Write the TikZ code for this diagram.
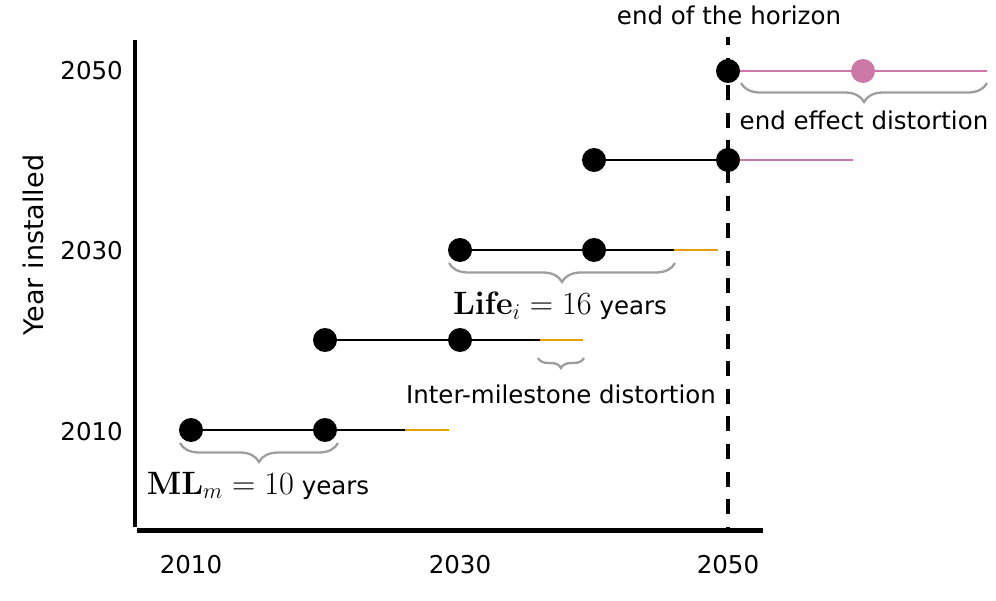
\documentclass[tikz,border=0pt]{standalone}
\usepackage{graphicx}
\usepackage[no-math]{fontspec}
\setmainfont{DejaVu Sans}
\usetikzlibrary{decorations.pathreplacing}
\definecolor{lifeorange}{HTML}{E69F00}
\definecolor{endpink}{HTML}{CC79A7}
\definecolor{bracegray}{HTML}{9E9E9E}
\newcommand{\bigmath}[1]{\scalebox{1.3}{$#1$}}
\tikzset{
  milestone/.style={circle, fill=black, inner sep=0pt, minimum size=24pt},
  enddot/.style={milestone, fill=endpink},
  seg/.style={line width=2.3pt, black},
  lateseg/.style={line width=2.3pt, lifeorange},
  endseg/.style={line width=2.3pt, endpink},
  axisline/.style={line width=4.6pt, black},
  horizonline/.style={line width=4.6pt, black, dash pattern=on 15pt off 12.6pt, dash phase=7pt},
  bracestyle/.style={decorate, bracegray, line width=2.3pt, decoration={brace, mirror, amplitude=#1}},
  lbl/.style={anchor=base, inner sep=0pt},
}
\begin{document}
\begin{tikzpicture}[x=1pt, y=-1pt, font=\fontsize{24.5}{29}\selectfont]
\useasboundingbox (0,0) rectangle (996,601);

% axes
\coordinate (ytop) at (135,40);
\coordinate (ybot) at (135,527);
\coordinate (xleft) at (137,530.5);
\coordinate (xright) at (763,530.5);
\draw[axisline] (ytop) -- (ybot);
\draw[axisline] (xleft) -- (xright);

% end of horizon
\coordinate (htop) at (728,37);
\coordinate (hbot) at (728,528);
\draw[horizonline] (htop) -- (hbot);

% tick labels
\node[lbl, anchor=base east] (y2010) at (123,440) {2010};
\node[lbl, anchor=base east] (y2030) at (123,260) {2030};
\node[lbl, anchor=base east] (y2050) at (123,80) {2050};
\node[lbl] (x2010) at (191,573) {2010};
\node[lbl] (x2030) at (460,573) {2030};
\node[lbl] (x2050) at (728,573) {2050};
\node[lbl, rotate=90, font=\fontsize{27}{32}\selectfont] (ylabel) at (43,245) {Year installed};

% row 2010
\node[milestone] (r1a) at (191,430) {};
\node[milestone] (r1b) at (325,430) {};
\coordinate (r1life) at (405,430);
\coordinate (r1end) at (449,430);
\draw[seg] (r1a) -- (r1b);
\draw[seg] (r1b) -- (r1life);
\draw[lateseg] (r1life) -- (r1end);

% row 2020
\node[milestone] (r2a) at (325,340) {};
\node[milestone] (r2b) at (460,340) {};
\coordinate (r2life) at (540,340);
\coordinate (r2end) at (583,340);
\draw[seg] (r2a) -- (r2b);
\draw[seg] (r2b) -- (r2life);
\draw[lateseg] (r2life) -- (r2end);

% row 2030
\node[milestone] (r3a) at (460,250) {};
\node[milestone] (r3b) at (594,250) {};
\coordinate (r3life) at (674,250);
\coordinate (r3end) at (718,250);
\draw[seg] (r3a) -- (r3b);
\draw[seg] (r3b) -- (r3life);
\draw[lateseg] (r3life) -- (r3end);

% row 2040
\node[milestone] (r4a) at (594,160) {};
\node[milestone] (r4b) at (728,160) {};
\coordinate (r4end) at (853,160);
\draw[seg] (r4a) -- (r4b);
\draw[endseg] (r4b) -- (r4end);

% row 2050
\node[milestone] (r5a) at (728,71) {};
\node[enddot] (r5b) at (863,71) {};
\coordinate (r5end) at (987,71);
\draw[endseg] (r5a) -- (r5b);
\draw[endseg] (r5b) -- (r5end);

% braces
\coordinate (mlL) at (180,443);
\coordinate (mlR) at (338,443);
\draw[bracestyle=19pt] (mlL) -- (mlR);
\node[lbl] (mllab) at (258,494) {\bigmath{\mathbf{ML}_m = 10} years};

\coordinate (lifeL) at (449,263);
\coordinate (lifeR) at (675,263);
\draw[bracestyle=19pt] (lifeL) -- (lifeR);
\node[lbl] (lifelab) at (560,315) {\bigmath{\mathbf{Life}_i = 16} years};

\coordinate (imL) at (538,358);
\coordinate (imR) at (584,358);
\draw[bracestyle=10pt] (imL) -- (imR);
\node[lbl] (imlab) at (561,403) {Inter-milestone distortion};

\coordinate (eeL) at (741,83);
\coordinate (eeR) at (987,83);
\draw[bracestyle=19pt] (eeL) -- (eeR);
\node[lbl] (eelab) at (864,130) {end effect distortion};

\node[lbl] (horlab) at (729,25) {end of the horizon};
\end{tikzpicture}
\end{document}
